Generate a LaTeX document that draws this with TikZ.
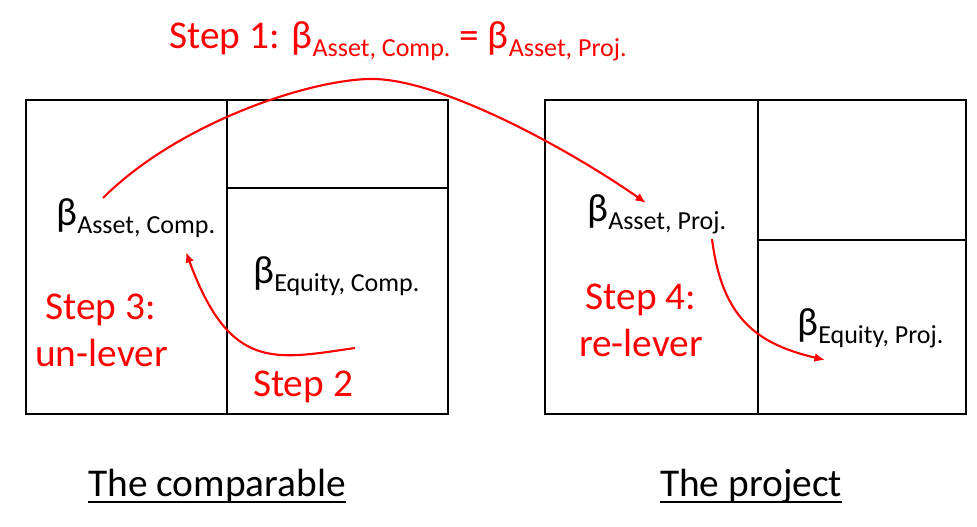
\documentclass[tikz,border=0pt]{standalone}
\usepackage{fontspec}
\setmainfont{Carlito}
\usepackage{tikz}
\usetikzlibrary{arrows.meta}
\newcommand{\bsub}[1]{β\raisebox{-0.2em}{\fontsize{14.8}{16}\selectfont #1}}

\begin{document}
\begin{tikzpicture}[
	txt/.style={font=\fontsize{22.4}{27}\selectfont, inner sep=0pt},
	redtxt/.style={txt, text=red},
	arr/.style={red, line width=1.2pt, -{Latex[length=6pt,width=5pt]}},
	box/.style={black, line width=1.5pt},
	part/.style={black, line width=1pt}]
	\useasboundingbox (0,0) rectangle (19.54,10.54);
\draw[box] (0.52,2.26) rectangle (8.96,8.54);
\draw[part] (4.54,2.26) -- (4.54,8.54);
\draw[part] (4.54,6.78) -- (8.96,6.78);
\draw[box] (10.9,2.26) rectangle (19.32,8.54);
\draw[part] (15.16,2.26) -- (15.16,8.54);
\draw[part] (15.16,5.74) -- (19.32,5.74);

\node[redtxt,anchor=base west] (S1) at (3.38,9.56) {Step 1: \bsub{Asset, Comp.} = \bsub{Asset, Proj.}};
\node[txt,anchor=base west] (AC) at (1.12,6.02) {\bsub{Asset, Comp.}};
\node[txt,anchor=base west] (EC) at (5.06,4.86) {\bsub{Equity, Comp.}};
\node[txt,anchor=base west] (AP) at (11.74,6.10) {\bsub{Asset, Proj.}};
\node[txt,anchor=base west] (EP) at (15.94,3.82) {\bsub{Equity, Proj.}};
\node[redtxt,anchor=base] (S3) at (2.01,4.14) {Step 3:};
\node[redtxt,anchor=base] (UL) at (2.03,3.2) {un-lever};
\node[redtxt,anchor=base] (S2) at (6.06,2.6) {Step 2};
\node[redtxt,anchor=base] (S4) at (12.82,4.34) {Step 4:};
\node[redtxt,anchor=base] (RL) at (12.82,3.4) {re-lever};
\node[txt,anchor=base] (TC) at (4.34,0.6) {The comparable};
\node[txt,anchor=base] (TP) at (15.02,0.6) {The project};
\draw[line width=1pt] ([yshift=-0.1cm]TC.base west) -- ([yshift=-0.1cm]TC.base east);
\draw[line width=1pt] ([yshift=-0.1cm]TP.base west) -- ([yshift=-0.1cm]TP.base east);

\coordinate (a1) at (2.06,6.58);
\coordinate (pk) at (7.44,8.96);
\coordinate (a2) at (12.92,6.48);
\coordinate (b1) at (7.10,3.58);
\coordinate (b2) at (3.72,5.50);
\coordinate (c1) at (14.24,5.76);
\coordinate (c2) at (16.5,3.34);
\draw[arr] (a1) .. controls (3.56,8.08) and (6.2,8.96) .. (pk) .. controls (8.84,8.96) and (11.45,7.51) .. (a2);
\draw[arr] (b1) .. controls (5.5,3.35) and (4.6,3.1) .. (b2);
\draw[arr] (c1) .. controls (14.44,4.17) and (15.14,3.66) .. (c2);

\end{tikzpicture}
\end{document}
